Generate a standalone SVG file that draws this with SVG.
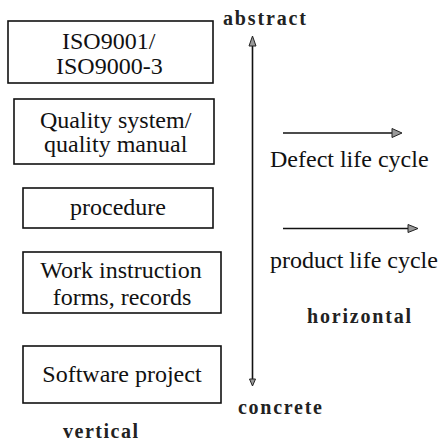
<svg xmlns="http://www.w3.org/2000/svg" width="438" height="443" viewBox="0 0 438 443">
<defs>
<style>
.box{fill:#fff;stroke:#111;stroke-width:1.6}
.ln{stroke:#111;stroke-width:1.6;fill:none}
.ah{fill:#999;stroke:#222;stroke-width:1}
</style>
</defs>
<rect width="438" height="443" fill="#fff"/>
<g id="iso">
<rect class="box" x="8" y="21" width="205" height="62"/>
<text font-family="Liberation Serif, serif" font-size="24" fill="#111" x="62" y="49">ISO9001/</text>
<text font-family="Liberation Serif, serif" font-size="24" fill="#111" x="56" y="74">ISO9000-3</text>
</g>
<g id="quality">
<rect class="box" x="14" y="99" width="200" height="65"/>
<text font-family="Liberation Serif, serif" font-size="24" fill="#111" x="40" y="128">Quality system/</text>
<text font-family="Liberation Serif, serif" font-size="24" fill="#111" x="44" y="152">quality manual</text>
</g>
<g id="procedure">
<rect class="box" x="23" y="188" width="190" height="40"/>
<text font-family="Liberation Serif, serif" font-size="24" fill="#111" x="70" y="215">procedure</text>
</g>
<g id="work">
<rect class="box" x="23" y="252" width="198" height="61"/>
<text font-family="Liberation Serif, serif" font-size="24" fill="#111" x="40.3" y="278">Work instruction</text>
<text font-family="Liberation Serif, serif" font-size="24" fill="#111" x="52.7" y="305">forms, records</text>
</g>
<g id="software">
<rect class="box" x="23" y="346" width="198" height="57"/>
<text font-family="Liberation Serif, serif" font-size="24" fill="#111" x="42.3" y="382">Software project</text>
</g>
<g id="labels">
<text font-family="Liberation Serif, serif" font-weight="bold" font-size="20" fill="#222" x="223" y="25" textLength="83" lengthAdjust="spacing">abstract</text>
<text font-family="Liberation Serif, serif" font-weight="bold" font-size="20" fill="#222" x="238" y="414" textLength="84" lengthAdjust="spacing">concrete</text>
<text font-family="Liberation Serif, serif" font-weight="bold" font-size="20" fill="#222" x="63" y="438" textLength="75" lengthAdjust="spacing">vertical</text>
<text font-family="Liberation Serif, serif" font-weight="bold" font-size="20" fill="#222" x="307" y="323" textLength="104" lengthAdjust="spacing">horizontal</text>
<text font-family="Liberation Serif, serif" font-size="24" fill="#111" x="270" y="167">Defect life cycle</text>
<text font-family="Liberation Serif, serif" font-size="24" fill="#111" x="270" y="268">product life cycle</text>
</g>
<g id="connectors">
<line class="ln" x1="252.5" y1="45" x2="252.5" y2="381"/>
<polygon class="ah" points="252.5,36 249,46 256,46"/>
<polygon class="ah" points="252.5,386 249.5,379 255.5,379"/>
<line class="ln" x1="283" y1="133" x2="393" y2="133"/>
<polygon class="ah" points="402,133 392,128.5 392,137.5"/>
<line class="ln" x1="283" y1="228.5" x2="409" y2="228.5"/>
<polygon class="ah" points="418,228.5 408,224.5 408,232.5"/>
</g>
</svg>
